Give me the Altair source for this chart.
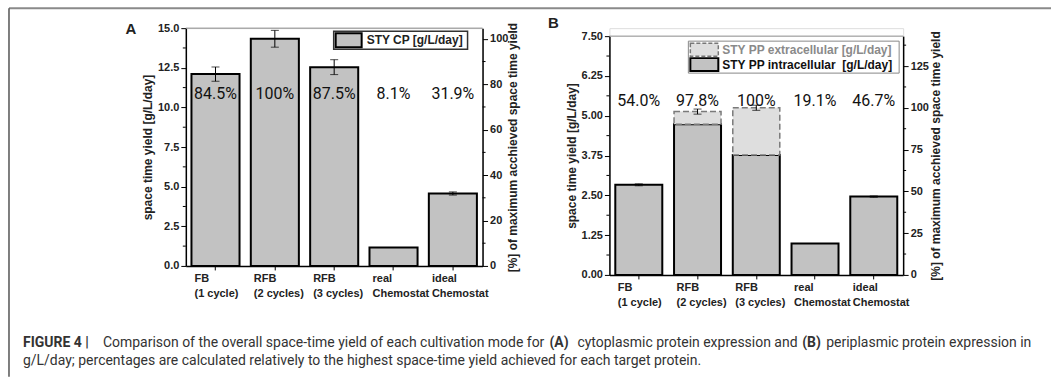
import altair as alt
import pandas as pd

# ---------------- data ----------------
categories = ["FB|(1 cycle)", "RFB|(2 cycles)", "RFB|(3 cycles)", "real|Chemostat", "ideal|Chemostat"]

# Panel A: cytoplasmic protein (CP)
cp_sty = [12.1, 14.33, 12.54, 1.16, 4.57]
cp_err = [0.45, 0.53, 0.47, 0.0, 0.1]
cp_pct = [84.5, 100, 87.5, 8.1, 31.9]
cp_pct_text = ["84.5%", "100%", "87.5%", "8.1%", "31.9%"]

# Panel B: periplasmic protein (PP)
pp_intra = [2.83, 4.73, 3.77, 0.99, 2.46]
pp_extra = [0.0, 0.40, 1.48, 0.0, 0.0]
pp_err = [0.03, 0.08, 0.08, 0.0, 0.02]
pp_pct = [54.0, 97.8, 100, 19.1, 46.7]
pp_pct_text = ["54.0%", "97.8%", "100%", "19.1%", "46.7%"]

yA_ticks = [0.0, 2.5, 5.0, 7.5, 10.0, 12.5, 15.0]
yA_minor = [1.25, 3.75, 6.25, 8.75, 11.25, 13.75]
yB_ticks = [0.0, 1.25, 2.5, 3.75, 5.0, 6.25, 7.5]
yB_minor = [0.625, 1.875, 3.125, 4.375, 5.625, 6.875]
pA_ticks = [0, 20, 40, 60, 80, 100]
pA_minor = [10, 30, 50, 70, 90]
pB_ticks = [0, 25, 50, 75, 100, 125]
pB_minor = [12.5, 37.5, 62.5, 87.5, 112.5, 137.5]

caption_l1 = [
    ("FIGURE 4 |", "bold"),
    ("Comparison of the overall space-time yield of each cultivation mode for", "normal"),
    ("(A)", "bold"),
    ("cytoplasmic protein expression and", "normal"),
    ("(B)", "bold"),
    ("periplasmic protein expression in", "normal"),
]
caption_l2 = "g/L/day; percentages are calculated relatively to the highest space-time yield achieved for each target protein."

# ---------------- styles ----------------
HATCH = "#c2c2c2"
DOTS = "#dedede"
FRAME = "#8a8a8a"
FONT = "Liberation Sans"

dfA = pd.DataFrame({"cat": categories, "val": cp_sty, "err": cp_err, "pct": cp_pct, "ptxt": cp_pct_text})
dfA["lo"] = dfA["val"] - dfA["err"]
dfA["hi"] = dfA["val"] + dfA["err"]

dfB = pd.DataFrame({"cat": categories, "intra": pp_intra, "extra": pp_extra, "err": pp_err,
                    "pct": pp_pct, "ptxt": pp_pct_text})
dfB["total"] = dfB["intra"] + dfB["extra"]
dfB["lo"] = dfB["total"] - dfB["err"]
dfB["hi"] = dfB["total"] + dfB["err"]

one = alt.Data(values=[{}])


def x_enc(pi):
    return alt.X("cat:N", sort=categories,
                 scale=alt.Scale(paddingInner=pi, paddingOuter=pi / 2),
                 axis=alt.Axis(title=None, labelExpr="split(datum.value, '|')", labelAngle=0,
                               labelAlign="left", labelOffset=-21, labelBaseline="top",
                               labelLineHeight=15, labelPadding=3, labelFontSize=11,
                               labelFontWeight="bold", labelColor="#222", tickSize=4,
                               tickColor="black", domainColor="black", domainWidth=1.5,
                               labelOverlap=False))


def left_axis(vals, fmt):
    return alt.Axis(values=vals, format=fmt, title="space time yield [g/L/day]",
                    titleFontSize=12, titleFontWeight="bold", titleColor="#222", titlePadding=3,
                    labelFontSize=11, labelFontWeight="bold", labelColor="#222", labelOverlap=False,
                    tickCount=len(vals),
                    tickSize=5, tickColor="black", domainColor="black", domainWidth=1.5,
                    grid=False, orient="left")


def right_axis(vals, pad):
    return alt.Axis(values=vals, title="[%] of maximum acchieved space time yield",
                    titleAngle=270, titleBaseline="top", titleFontSize=12, titleFontWeight="bold",
                    titleColor="#222", titlePadding=pad, tickCount=len(vals),
                    labelFontSize=11, labelFontWeight="bold", labelColor="#222", labelOverlap=False,
                    tickSize=5, tickColor="black", domainColor="black", domainWidth=1.5,
                    grid=False, orient="right")


def txt(x, y, text, size=12, weight="bold", color="#222", align="left", font=FONT):
    return alt.Chart(one).mark_text(text=text, fontSize=size, fontWeight=weight, color=color,
                                    align=align, baseline="middle", font=font).encode(
        x=alt.value(x), y=alt.value(y))


def rect(x, x2, y, y2, fill, stroke, sw, dash=None):
    kw = dict(fill=fill, stroke=stroke, strokeWidth=sw)
    if dash:
        kw["strokeDash"] = dash
    return alt.Chart(one).mark_rect(**kw).encode(
        x=alt.value(x), x2=alt.value(x2), y=alt.value(y), y2=alt.value(y2))


def minor_ticks(vals, x0, x1):
    return alt.Chart(pd.DataFrame({"m": vals})).mark_rule(color="black", strokeWidth=1).encode(
        y="m:Q", x=alt.value(x0), x2=alt.value(x1))


# ---------------- panel A ----------------
W_A, H_A = 297, 238
xA = x_enc(0.19)
yA_scale = alt.Scale(domain=[0, 15], nice=False)
baseA = alt.Chart(dfA)

barsA = baseA.mark_bar(fill=HATCH, stroke="black", strokeWidth=2).encode(
    x=xA, y=alt.Y("val:Q", scale=yA_scale, axis=left_axis(yA_ticks, ".1f")))
errA = baseA.transform_filter("datum.err > 0").mark_rule(color="black", strokeWidth=1).encode(
    x=xA, y="lo:Q", y2="hi:Q")
capLoA = baseA.transform_filter("datum.err > 0").mark_tick(color="black", size=8, thickness=1).encode(
    x=xA, y="lo:Q")
capHiA = baseA.transform_filter("datum.err > 0").mark_tick(color="black", size=8, thickness=1).encode(
    x=xA, y="hi:Q")
topA = alt.Chart(one).mark_rule(color=FRAME, strokeWidth=1).encode(y=alt.datum(15))
coreA = alt.layer(barsA, errA, capLoA, capHiA, topA, minor_ticks(yA_minor, -3, 0))

pctA = baseA.mark_point(opacity=0).encode(
    x=xA, y=alt.Y("pct:Q", scale=alt.Scale(domain=[0, 104.7], nice=False), axis=right_axis(pA_ticks, 0)))
pctLayerA = alt.layer(pctA, minor_ticks(pA_minor, W_A, W_A + 3))
lblA = baseA.mark_text(fontSize=16, font="Roboto", color="#111").encode(
    x=xA, y=alt.value(66), text="ptxt:N")

legA = [
    rect(148, 282, 3, 21, "white", "#333", 1.5),
    rect(150, 176, 5, 19, HATCH, "black", 2),
    txt(181, 12, "STY CP [g/L/day]"),
]

# frame + panel letter + caption (positioned relative to panel A plot area)
frame = [
    alt.Chart(one).mark_rule(color=FRAME, strokeWidth=2).encode(
        x=alt.value(-177), x2=alt.value(866), y=alt.value(-20)),
    alt.Chart(one).mark_rule(color="#555", strokeWidth=1.5).encode(
        x=alt.value(-177), y=alt.value(-20), y2=alt.value(349)),
]
letterA = txt(-55, 1, "A", size=15, align="center")

cap = []
cap_x = [-163, -83, 364, 392, 617, 641]
for (seg, wt), cx in zip(caption_l1, cap_x):
    cap.append(txt(cx, 315, seg, size=14, weight=wt, color="#333", font="Roboto"))
cap.append(txt(-163, 333, caption_l2, size=14, weight="normal", color="#333", font="Roboto"))

panelA = alt.layer(coreA, pctLayerA, lblA, *legA, *frame, letterA, *cap).resolve_scale(
    y="independent").properties(width=W_A, height=H_A)

# ---------------- panel B ----------------
W_B, H_B = 294, 247
RANGE_B = [247, 8]
xB = x_enc(0.2)
yB_scale = alt.Scale(domain=[0, 7.5], range=RANGE_B, nice=False)
baseB = alt.Chart(dfB)

barsB = baseB.mark_bar(fill=HATCH, stroke="black", strokeWidth=2).encode(
    x=xB, y=alt.Y("intra:Q", scale=yB_scale, axis=left_axis(yB_ticks, ".2f")))
extB = baseB.transform_filter("datum.extra > 0").mark_bar(
    fill=DOTS, stroke="#7a7a7a", strokeWidth=1.5, strokeDash=[6, 3]).encode(
    x=xB, y="intra:Q", y2="total:Q")
errB = baseB.transform_filter("datum.err > 0").mark_rule(color="black", strokeWidth=1).encode(
    x=xB, y="lo:Q", y2="hi:Q")
capLoB = baseB.transform_filter("datum.err > 0").mark_tick(color="black", size=8, thickness=1).encode(
    x=xB, y="lo:Q")
capHiB = baseB.transform_filter("datum.err > 0").mark_tick(color="black", size=8, thickness=1).encode(
    x=xB, y="hi:Q")
topB = alt.Chart(one).mark_rule(color=FRAME, strokeWidth=1).encode(y=alt.datum(7.5))
coreB = alt.layer(barsB, extB, errB, capLoB, capHiB, topB, minor_ticks(yB_minor, -3, 0))

pctB = baseB.mark_point(opacity=0).encode(
    x=xB, y=alt.Y("pct:Q", scale=alt.Scale(domain=[0, 142.9], range=RANGE_B, nice=False),
                  axis=right_axis(pB_ticks, 2)))
pctLayerB = alt.layer(pctB, minor_ticks(pB_minor, W_B, W_B + 3))
lblB = baseB.mark_text(fontSize=16, font="Roboto", color="#111").encode(
    x=xB, y=alt.value(73), text="ptxt:N")

legB = [
    rect(79, 290, 13, 45, "white", "#888", 1),
    rect(81, 109, 15, 28, DOTS, "#777", 1.5, [4, 2]),
    rect(81, 109, 30, 43, HATCH, "black", 2),
    txt(113, 21.5, "STY PP extracellular [g/L/day]", color="#8a8a8a"),
    txt(113, 36.5, "STY PP intracellular\u00a0 [g/L/day]", color="#111"),
]
letterB = txt(-56, -5, "B", size=15, align="center")

panelB = alt.layer(coreB, pctLayerB, lblB, *legB, letterB).resolve_scale(
    y="independent").properties(width=W_B, height=H_B)

chart = alt.hconcat(panelA, panelB, spacing=127, bounds="flush").properties(
    padding={"left": 7, "top": 6, "right": 0, "bottom": 0},
    background="white",
).configure_view(strokeWidth=0).configure(font=FONT).configure_axis(labelOverlap=False)

chart.save("out.html", embed_options={"renderer": "svg", "actions": False})
